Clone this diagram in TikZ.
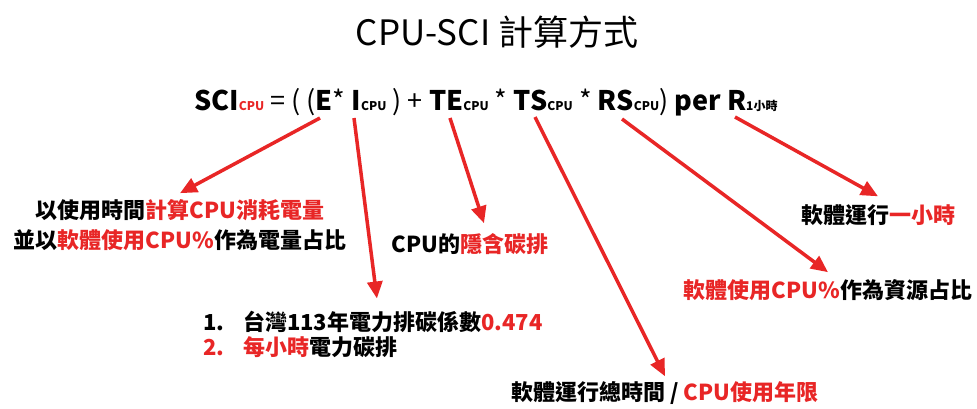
\documentclass[tikz,border=0pt]{standalone}
\usepackage{fontspec}
\setmainfont{Noto Sans CJK TC}
\usetikzlibrary{arrows.meta}
\definecolor{sciRed}{RGB}{232,38,38}
\newcommand{\hl}[1]{\textcolor{sciRed}{#1}}
\newcommand{\cpusub}[1]{{\fontsize{12}{12}\selectfont #1}}
\newcommand{\lt}[1]{{\mdseries #1}}

\begin{document}
\begin{tikzpicture}[x=1pt,y=-1pt,>={Triangle[length=17pt,width=15pt]},
  red arrow/.style={->,draw=sciRed,fill=sciRed,line width=3.5pt},
  note/.style={font=\fontsize{22}{30}\selectfont\bfseries,inner sep=0pt,align=center},
  formula/.style={font=\fontsize{27}{30}\selectfont\bfseries,inner sep=0pt}]

\useasboundingbox (0,0) rectangle (977,408);

\node[font=\fontsize{35}{40}\selectfont,anchor=base] (title) at (497,45) {CPU-SCI 計算方式};

\node[formula,anchor=base west] (sci) at (194,110)
  {SCI\cpusub{\hl{CPU}} \lt{= ( (}E\lt{*} I\cpusub{CPU} \lt{) +} TE\cpusub{CPU} \lt{*} TS\cpusub{CPU} \lt{*} RS\cpusub{CPU}\lt{)} per R\cpusub{1小時}};

% where the arrows leave the formula
\coordinate (eS) at (320,118);
\coordinate (iS) at (354,118);
\coordinate (teS) at (450,118);
\coordinate (tsS) at (535,117);
\coordinate (rsS) at (622,119);
\coordinate (rS) at (735,117);

\node[note] (energy) at (180,225) {以使用時間\hl{計算CPU消耗電量}\\並以\hl{軟體使用CPU\%}作為電量占比};
\node[note,align=left,anchor=west,font=\fontsize{22}{25}\selectfont\bfseries] (factor) at (203,334)
  {\makebox[40pt][l]{1.}台灣113年電力排碳係數\hl{0.474}\\\hl{\makebox[40pt][l]{2.}每小時}電力碳排};
\node[note] (embodied) at (470,244) {CPU的\hl{隱含碳排}};
\node[note] (lifetime) at (665,393) {軟體運行總時間 / \hl{CPU使用年限}};
\node[note] (share) at (828,290) {\hl{軟體使用CPU\%}作為資源占比};
\node[note] (hour) at (878,215) {軟體運行\hl{一小時}};

\draw[red arrow] (eS) to ([yshift=6pt]energy.north);
\draw[red arrow] (iS) to ([xshift=4pt,yshift=12pt]factor.north);
\draw[red arrow] (teS) to ([xshift=14pt,yshift=10pt]embodied.north);
\draw[red arrow] (tsS) to ([yshift=5pt]lifetime.north);
\draw[red arrow] (rsS) to ([yshift=7pt]share.north);
\draw[red arrow] (rS) to ([yshift=8pt]hour.north);

\end{tikzpicture}
\end{document}
